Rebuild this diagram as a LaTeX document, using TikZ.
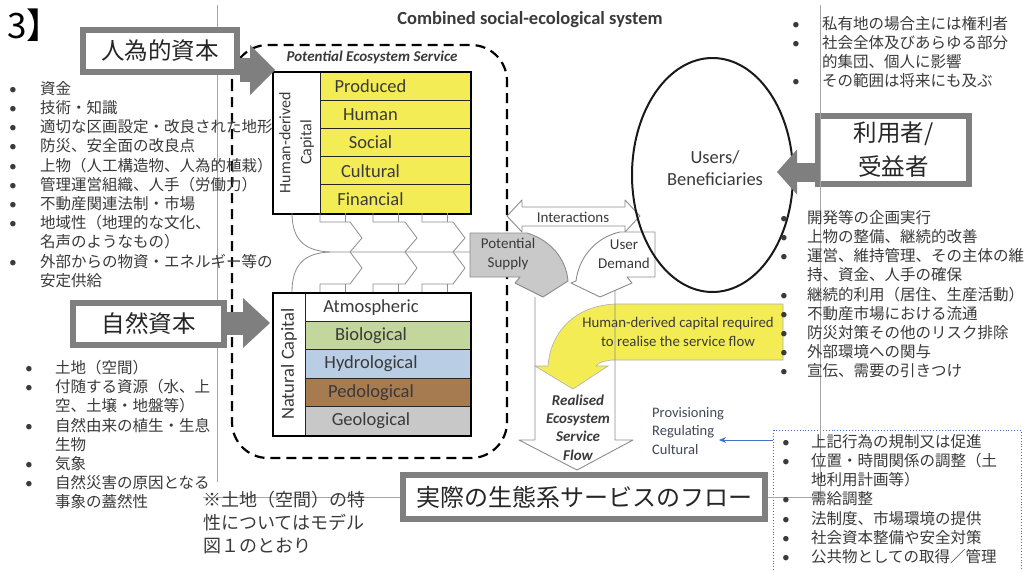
\documentclass[tikz,border=0pt]{standalone}
\usepackage{fontspec}
\setmainfont{Carlito}
\newfontfamily\jp{Noto Sans CJK JP}
\usetikzlibrary{arrows.meta,shapes.geometric}
\definecolor{boxgray}{HTML}{7F7F7F}
\definecolor{linegray}{HTML}{8C8C8C}
\definecolor{framegray}{HTML}{A6A6A6}
\definecolor{capyellow}{HTML}{F4EC55}
\definecolor{biogreen}{HTML}{C3D69B}
\definecolor{hydroblue}{HTML}{B9CDE5}
\definecolor{pedobrown}{HTML}{A77B50}
\definecolor{geogray}{HTML}{C8C8C8}
\definecolor{supplygray}{HTML}{C9C9C9}
\definecolor{txt}{HTML}{3A3A3A}
\definecolor{provtext}{HTML}{404858}
\definecolor{linkblue}{HTML}{4472C4}
\newcommand{\bu}[1]{\makebox[#1][l]{\normalfont\textbullet}}
\newcommand{\nb}[1]{\hspace*{#1}}

\begin{document}
\begin{tikzpicture}[x=1pt,y=-1pt,
  font=\fontsize{15}{17}\selectfont,
  jpbox/.style={draw=boxgray,line width=6pt,fill=white,text=black!85,
    font=\jp\fontsize{23.5}{34}\selectfont,align=center,inner sep=0pt},
  bigarrow/.style={draw=boxgray,line width=#1},
  jplist/.style={anchor=north west,align=left,inner sep=0pt,text=txt,
    font=\jp\fontsize{15.5}{19.2}\selectfont},
  rowbox/.style={draw=black!85,line width=1pt,fill=#1,minimum height=28.2pt,inner sep=0pt},
  rowtext/.style={text=txt,font=\fontsize{18.5}{20}\selectfont,inner sep=0pt},
  sidelabel/.style={rotate=90,align=center,text=txt,inner sep=0pt},
  flowline/.style={draw=linegray,line width=.8pt,line join=round},
  shapeline/.style={draw=linegray,line width=.9pt,line join=round},
  frameline/.style={draw=framegray,line width=.8pt}
]
\path[use as bounding box,fill=white] (0,0) rectangle (1027,570);
\draw[frameline] (217,5) -- (217,482);

\node[font=\bfseries\fontsize{18.5}{21}\selectfont,text=txt] (title) at (530,20) {Combined social-ecological system};
\node[font=\jp\fontsize{35}{38}\selectfont,anchor=west,inner sep=0pt] (num) at (7,25) {3】};

% potential ecosystem service
\draw[line width=2.2pt,dash pattern=on 10pt off 6pt,rounded corners=36pt] (232,45) rectangle (507,458);
\node[font=\bfseries\itshape\fontsize{15}{17}\selectfont,text=txt] (pes) at (372,57) {Potential Ecosystem Service};

% human-derived capital
\node[rowbox=white,minimum width=47pt,minimum height=141pt] (hcol) at (296.5,142.5) {};
\node[sidelabel,font=\fontsize{16}{21}\selectfont] (hlab) at (hcol) {Human-derived\\Capital};
\foreach \rowname [count=\i] in {Produced,Human,Social,Cultural,Financial}{
  \node[rowbox=capyellow,minimum width=150pt] (hrow\i) at (395,{57.9+28.2*\i}) {};
  \node[rowtext] (htext\i) at (370.5,{57.9+28.2*\i}) {\rowname};
}
\draw[line width=2pt] (hcol.north west) rectangle (hrow5.south east);

% natural capital
\node[rowbox=white,minimum width=32pt,minimum height=142pt] (ncol) at (289,364) {};
\node[sidelabel,font=\fontsize{18.5}{20}\selectfont] (nlab) at (ncol) {Natural Capital};
\foreach \rowname/\col [count=\i] in {Atmospheric/white,Biological/biogreen,Hydrological/hydroblue,Pedological/pedobrown,Geological/geogray}{
  \node[rowbox=\col,minimum width=165pt,minimum height=28.4pt] (nrow\i) at (387.5,{278.8+28.4*\i}) {};
  \node[rowtext] (ntext\i) at (371,{278.8+28.4*\i}) {\rowname};
}
\draw[line width=2pt] (ncol.north west) rectangle (nrow5.south east);

% flows into the supply
\draw[flowline] (292,213) .. controls (292,240) and (305,251) .. (330,252) -- (470,252);
\draw[flowline] (292,292) .. controls (292,264) and (305,253) .. (330,252);
\foreach \s/\c in {320/350,373/405,422/453}{
  \draw[flowline] (\s,213) -- (\s,222) -- (\c,222) -- (\c+12,238) -- (\c,252);
  \draw[flowline] (\s+25,213) -- (\s+25,222);
  \draw[flowline] (\s,292) -- (\s,284) -- (\c,284) -- (\c+12,268) -- (\c,252);
  \draw[flowline] (\s+25,292) -- (\s+25,284);
}

% interactions, supply and demand
\draw[shapeline,fill=white] (507,216) -- (522,200) -- (522,207) -- (625,207) -- (625,200) -- (640,216)
  -- (625,232) -- (625,226) -- (522,226) -- (522,232) -- cycle;
\node[text=txt] (inter) at (573,217) {Interactions};
\draw[shapeline,fill=supplygray] (470,233) -- (527,233) .. controls (550,240) and (566,258) .. (568,281)
  -- (543,297) -- (515,283) -- (520,277) -- (470,277) -- cycle;
\node[align=center,text=txt,font=\fontsize{15}{19}\selectfont] (supply) at (508,254) {Potential\\Supply};
\draw[shapeline,fill=white] (620,232) -- (655,232) -- (655,277) -- (627,277) -- (632,283) -- (600,297)
  -- (571,283) -- (576,281) .. controls (579,256) and (597,237) .. (620,232) -- cycle;
\node[align=center,text=txt,font=\fontsize{15}{19}\selectfont] (demand) at (624,254) {User\\Demand};

% users
\node[ellipse,draw=black!90,line width=2pt,minimum width=161pt,minimum height=234pt,inner sep=0pt] (users) at (712.5,175) {};
\node[align=center,text=txt,font=\fontsize{18.5}{22}\selectfont] (ulab) at (715,168) {Users/\\Beneficiaries};

% required capital and realised flow
\draw[draw=linegray!70,fill=capyellow,line width=.6pt] (783,360) -- (612,360) .. controls (603,361) and (598,363) .. (596,366)
  -- (608,366) -- (573,389) -- (535,366) -- (548,366) .. controls (550,335) and (572,306) .. (615,304) -- (783,304) -- cycle;
\node[align=center,text=txt,font=\fontsize{14.8}{19}\selectfont] (hreq) at (678,332) {Human-derived capital required\\to realise the service flow};
\draw[shapeline] (535,297) -- (535,440) -- (519,440) -- (577,470) -- (633,440) -- (615,440) -- (615,290);
\node[align=center,text=txt,font=\bfseries\itshape\fontsize{15}{18.3}\selectfont] (flow) at (578,427.5) {Realised\\Ecosystem\\Service\\Flow};
\node[anchor=west,align=left,text=provtext,font=\fontsize{14.5}{18.5}\selectfont,inner sep=0pt] (prc) at (652,431) {Provisioning\\Regulating\\Cultural};

% policy box
\draw[draw=linkblue,dotted,line width=.9pt] (773,430) rectangle (1021,580);
\coordinate (dbw) at (773,440);
\coordinate (prtip) at (719,440);
\draw[draw=linkblue,line width=.7pt,-{Stealth[length=7pt,width=6pt]}] (dbw) -- (prtip);

% japanese labels
\node[jpbox,minimum width=154pt,minimum height=42pt] (hb) at (160,51) {人為的資本};
\node[jpbox,minimum width=151pt,minimum height=42pt] (nb) at (148.5,324) {自然資本};
\node[jpbox,minimum width=151pt,minimum height=68pt] (ub) at (893.5,150) {利用者/\\受益者};
\node[jpbox,minimum width=362pt,minimum height=44pt,font=\jp\fontsize{24}{30}\selectfont] (rb) at (584,497) {実際の生態系サービスのフロー};
\draw[frameline] (rb.west) -- (203,497);
\draw[frameline] (rb.east) -| (820,5);

\coordinate (hbtip) at (275,70);
\draw[bigarrow=24pt,-{Triangle[length=25pt,width=50pt,line width=0pt]}] (hb.east |- hbtip) -- (hbtip);
\coordinate (nbtip) at (270,323);
\draw[bigarrow=23pt,-{Triangle[length=27pt,width=50pt,line width=0pt]}] (nb.east |- nbtip) -- (nbtip);
\coordinate (ubtip) at (777,172);
\draw[bigarrow=19pt,-{Triangle[length=20pt,width=45pt,line width=0pt]}] (ub.west |- ubtip) -- (ubtip);

% lists
\node[jplist] (hlist) at (9,81) {\bu{31pt}資金\\ \bu{31pt}技術・知識\\ \bu{31pt}適切な区画設定・改良された地形\\
  \bu{31pt}防災、安全面の改良点\\ \bu{31pt}上物（人工構造物、人為的植栽）\\ \bu{31pt}管理運営組織、人手（労働力）\\
  \bu{31pt}不動産関連法制・市場\\ \bu{31pt}地域性（地理的な文化、\\ \nb{31pt}名声のようなもの）\\
  \bu{31pt}外部からの物資・エネルギー等の\\ \nb{31pt}安定供給};
\node[jplist] (nlist) at (25,360) {\bu{30pt}土地（空間）\\ \bu{30pt}付随する資源（水、上\\ \nb{30pt}空、土壌・地盤等）\\
  \bu{30pt}自然由来の植生・生息\\ \nb{30pt}生物\\ \bu{30pt}気象\\ \bu{30pt}自然災害の原因となる\\ \nb{30pt}事象の蓋然性};
\node[jplist] (ulist) at (792,16) {\bu{30pt}私有地の場合主には権利者\\ \bu{30pt}社会全体及びあらゆる部分\\
  \nb{30pt}的集団、個人に影響\\ \bu{30pt}その範囲は将来にも及ぶ};
\node[jplist] (mlist) at (780,210) {\bu{27pt}開発等の企画実行\\ \bu{27pt}上物の整備、継続的改善\\
  \bu{27pt}運営、維持管理、その主体の維\\ \nb{27pt}持、資金、人手の確保\\ \bu{27pt}継続的利用（居住、生産活動）\\
  \bu{27pt}不動産市場における流通\\ \bu{27pt}防災対策その他のリスク排除\\ \bu{27pt}外部環境への関与\\
  \bu{27pt}宣伝、需要の引きつけ};
\node[jplist] (plist) at (782,434) {\bu{29pt}上記行為の規制又は促進\\ \bu{29pt}位置・時間関係の調整（土\\
  \nb{29pt}地利用計画等）\\ \bu{29pt}需給調整\\ \bu{29pt}法制度、市場環境の提供\\ \bu{29pt}社会資本整備や安全対策\\
  \bu{29pt}公共物としての取得／管理};
\node[jplist,font=\jp\fontsize{18}{23}\selectfont] (note) at (203,491) {※土地（空間）の特\\性についてはモデル\\図１のとおり};
\end{tikzpicture}
\end{document}
